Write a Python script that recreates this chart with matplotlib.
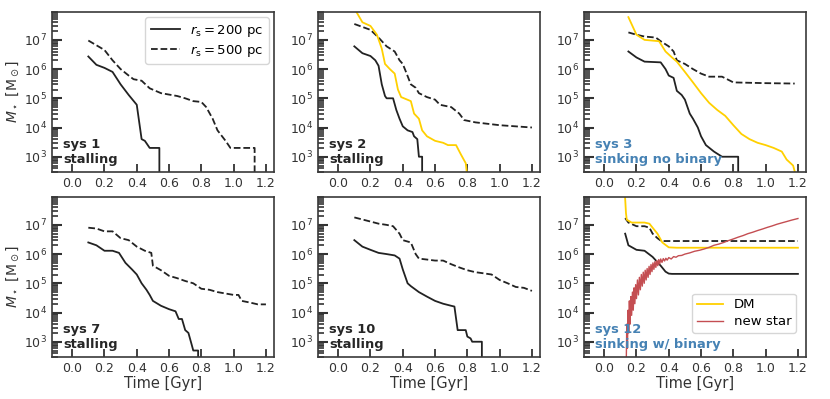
import matplotlib
matplotlib.use("Agg")
import matplotlib.pyplot as plt
from matplotlib.ticker import LogLocator, NullFormatter
import numpy as np

plt.rcdefaults()

# --- dane (czas w Gyr, masa w Msun) ---
# sys 1
s1_t200 = [0.10, 0.15, 0.20, 0.25, 0.30, 0.35, 0.40, 0.43, 0.45, 0.48, 0.54, 0.54]
s1_m200 = [2.7e6, 1.4e6, 1.1e6, 8e5, 3e5, 1.3e5, 6e4, 4e3, 3.5e3, 2e3, 2e3, 1e2]
s1_t500 = [0.10, 0.20, 0.25, 0.30, 0.35, 0.38, 0.43, 0.48, 0.55, 0.65, 0.70, 0.75, 0.80,
           0.83, 0.87, 0.90, 0.95, 0.98, 1.13, 1.13]
s1_m500 = [9.5e6, 4.5e6, 2e6, 1e6, 6e5, 4.5e5, 4e5, 2.2e5, 1.5e5, 1.2e5, 1e5, 8e4, 7.5e4,
           5e4, 2e4, 8e3, 3.5e3, 2e3, 2e3, 1e2]

# sys 2
s2_t200 = [0.10, 0.15, 0.20, 0.23, 0.25, 0.27, 0.29, 0.30, 0.34, 0.36, 0.38, 0.40, 0.43,
           0.46, 0.47, 0.49, 0.50, 0.52, 0.52]
s2_m200 = [6e6, 3.5e6, 2.8e6, 2e6, 1.3e6, 3e5, 1.2e5, 1e5, 1e5, 4e4, 2e4, 1.1e4, 8e3,
           7e3, 5e3, 4e3, 1e3, 1e3, 1e2]
s2_t500 = [0.10, 0.20, 0.25, 0.30, 0.35, 0.38, 0.40, 0.42, 0.45, 0.48, 0.50, 0.55, 0.60,
           0.63, 0.70, 0.75, 0.78, 0.85, 1.00, 1.20]
s2_m500 = [3.5e7, 2.2e7, 1.2e7, 6e6, 4e6, 2e6, 1.5e6, 8e5, 3e5, 2.3e5, 1.5e5, 1.1e5, 9e4,
           6e4, 5e4, 3e4, 1.8e4, 1.5e4, 1.2e4, 1.0e4]
s2_tdm = [0.10, 0.15, 0.20, 0.24, 0.27, 0.29, 0.32, 0.35, 0.37, 0.39, 0.45, 0.47, 0.50,
          0.52, 0.55, 0.60, 0.65, 0.68, 0.73, 0.76, 0.79, 0.80]
s2_mdm = [1.2e8, 4e7, 3e7, 1.5e7, 5e6, 1.5e6, 1e6, 7e5, 2e5, 1.1e5, 8e4, 3e4, 2e4,
          8e3, 5e3, 3.5e3, 3e3, 2.5e3, 2.5e3, 1.2e3, 6e2, 2e2]

# sys 3
s3_t200 = [0.15, 0.20, 0.25, 0.35, 0.38, 0.40, 0.43, 0.45, 0.48, 0.50, 0.53, 0.55, 0.58,
           0.60, 0.63, 0.68, 0.73, 0.83, 0.83]
s3_m200 = [4e6, 2.5e6, 1.8e6, 1.7e6, 1e6, 6e5, 5e5, 1.8e5, 1.3e5, 9e4, 3e4, 2e4, 1e4,
           5e3, 2.5e3, 1.5e3, 1e3, 1e3, 1e2]
s3_t500 = [0.15, 0.20, 0.25, 0.32, 0.35, 0.40, 0.43, 0.45, 0.50, 0.55, 0.60, 0.65, 0.73,
           0.78, 0.80, 1.00, 1.18]
s3_m500 = [1.8e7, 1.5e7, 1.3e7, 1.2e7, 9e6, 6e6, 4e6, 2e6, 1.5e6, 1e6, 7e5, 5.5e5, 5.5e5,
           4e5, 3.5e5, 3.3e5, 3.2e5]
s3_tdm = [0.15, 0.20, 0.25, 0.34, 0.38, 0.42, 0.45, 0.50, 0.55, 0.60, 0.65, 0.70, 0.75,
          0.80, 0.85, 0.90, 0.95, 1.00, 1.05, 1.10, 1.13, 1.17, 1.19]
s3_mdm = [6e7, 1.5e7, 1e7, 9e6, 4e6, 2.5e6, 1.8e6, 8e5, 3.5e5, 1.5e5, 7e4, 4e4, 2.5e4,
          1.2e4, 6e3, 4e3, 3e3, 2.5e3, 2e3, 1.5e3, 8e2, 5e2, 2e2]

# sys 7
s7_t200 = [0.10, 0.15, 0.20, 0.25, 0.29, 0.33, 0.37, 0.40, 0.43, 0.46, 0.48, 0.50, 0.55,
           0.60, 0.64, 0.66, 0.68, 0.70, 0.72, 0.74, 0.75, 0.78, 0.78]
s7_m200 = [2.5e6, 2e6, 1.3e6, 1.3e6, 1.1e6, 5e5, 3e5, 2e5, 1e5, 6e4, 4e4, 2.5e4, 1.7e4,
           1.3e4, 1.1e4, 6e3, 6e3, 2.5e3, 2e3, 8e2, 5e2, 5e2, 1e2]
s7_t500 = [0.10, 0.15, 0.20, 0.25, 0.30, 0.35, 0.40, 0.45, 0.49, 0.50, 0.55, 0.60, 0.65,
           0.70, 0.75, 0.80, 0.85, 0.90, 1.00, 1.03, 1.05, 1.10, 1.15, 1.20]
s7_m500 = [8e6, 7.5e6, 6e6, 6e6, 3.5e6, 3e6, 1.8e6, 1.3e6, 1.1e6, 4e5, 2.8e5, 1.8e5, 1.5e5,
           1.2e5, 1e5, 6.5e4, 6e4, 5e4, 4e4, 4e4, 2.5e4, 2.2e4, 1.9e4, 1.9e4]

# sys 10
s10_t200 = [0.10, 0.15, 0.20, 0.25, 0.30, 0.35, 0.38, 0.40, 0.43, 0.45, 0.50, 0.55, 0.60,
            0.65, 0.70, 0.72, 0.74, 0.79, 0.80, 0.82, 0.83, 0.89, 0.89]
s10_m200 = [3e6, 1.8e6, 1.4e6, 1.1e6, 1e6, 9e5, 7e5, 3e5, 1e5, 8e4, 5e4, 3.5e4, 2.5e4,
            2e4, 1.7e4, 1.6e4, 2.5e3, 2.5e3, 1.5e3, 1.3e3, 1e3, 1e3, 1e2]
s10_t500 = [0.10, 0.20, 0.25, 0.30, 0.34, 0.38, 0.40, 0.45, 0.48, 0.50, 0.55, 0.60, 0.65,
            0.70, 0.75, 0.80, 0.85, 0.90, 0.95, 1.00, 1.05, 1.10, 1.15, 1.20]
s10_m500 = [1.8e7, 1.3e7, 1.1e7, 1e7, 9e6, 5e6, 3e6, 2.5e6, 1e6, 7e5, 6.5e5, 6e5, 6e5,
            4.5e5, 3.5e5, 2.8e5, 2.4e5, 2.2e5, 2e5, 1.3e5, 1e5, 7.5e4, 7e4, 5.5e4]

# sys 12
s12_t200 = [0.13, 0.15, 0.20, 0.25, 0.30, 0.35, 0.38, 0.40, 0.42, 1.20]
s12_m200 = [5e6, 2e6, 1.4e6, 1.3e6, 8e5, 4e5, 2.5e5, 2.15e5, 2.1e5, 2.1e5]
s12_t500 = [0.13, 0.15, 0.20, 0.25, 0.28, 0.30, 0.33, 0.35, 0.37, 1.20]
s12_m500 = [1.7e7, 1.2e7, 9e6, 9e6, 8e6, 5e6, 3.5e6, 2.9e6, 2.8e6, 2.8e6]
s12_tdm = [0.128, 0.132, 0.135, 0.14, 0.17, 0.25, 0.28, 0.30, 0.33, 0.36, 0.40, 0.45, 1.20]
s12_mdm = [1.2e8, 5e7, 2.5e7, 1.5e7, 1.2e7, 1.2e7, 1.1e7, 8e6, 5e6, 2.5e6, 1.7e6, 1.65e6, 1.65e6]
s12_tns = [0.136, 0.140, 0.144, 0.148, 0.152, 0.156, 0.160, 0.165, 0.170, 0.175, 0.180,
           0.185, 0.190, 0.195, 0.200, 0.206, 0.212, 0.218, 0.224, 0.230, 0.236, 0.242,
           0.248, 0.254, 0.260, 0.266, 0.272, 0.278, 0.284, 0.290, 0.296, 0.302, 0.308,
           0.314, 0.320, 0.326, 0.332, 0.338, 0.344, 0.350, 0.358, 0.366, 0.374, 0.382,
           0.390, 0.400, 0.415, 0.430, 0.445, 0.460, 0.480, 0.500, 0.530, 0.560, 0.590,
           0.620, 0.650, 0.680, 0.710, 0.740, 0.770, 0.800, 0.830, 0.860, 0.890, 0.920,
           0.950, 0.980, 1.010, 1.040, 1.070, 1.100, 1.130, 1.160, 1.200]
s12_mns = [1e2, 4e3, 6e2, 1.2e4, 2e3, 2.5e4, 4e3, 3.5e4, 8e3, 5e4, 1.2e4,
           7e4, 2e4, 9e4, 3e4, 1.3e5, 4e4, 1.6e5, 6e4, 2e5, 8e4, 2.4e5,
           1e5, 2.8e5, 1.3e5, 3.2e5, 1.6e5, 3.8e5, 2e5, 4.4e5, 2.5e5, 5e5, 3e5,
           5.5e5, 3.5e5, 6e5, 4e5, 6.5e5, 4.6e5, 6.8e5, 5.2e5, 7e5, 5.8e5, 7.2e5,
           6.2e5, 7.6e5, 6.8e5, 8.2e5, 7.8e5, 8.8e5, 9e5, 1e6, 1.1e6, 1.25e6, 1.35e6,
           1.5e6, 1.7e6, 2e6, 2.2e6, 2.5e6, 2.9e6, 3.3e6, 3.8e6, 4.3e6, 5e6, 5.6e6,
           6.4e6, 7.2e6, 8.2e6, 9.2e6, 1.05e7, 1.17e7, 1.3e7, 1.45e7, 1.65e7]

labels = ["sys 1\nstalling", "sys 2\nstalling", "sys 3\nsinking no binary",
          "sys 7\nstalling", "sys 10\nstalling", "sys 12\nsinking w/ binary"]
label_colors = ["#262626", "#262626", "#4682b4", "#262626", "#262626", "#4682b4"]

panels = [
    (s1_t200, s1_m200, s1_t500, s1_m500, None, None),
    (s2_t200, s2_m200, s2_t500, s2_m500, s2_tdm, s2_mdm),
    (s3_t200, s3_m200, s3_t500, s3_m500, s3_tdm, s3_mdm),
    (s7_t200, s7_m200, s7_t500, s7_m500, None, None),
    (s10_t200, s10_m200, s10_t500, s10_m500, None, None),
    (s12_t200, s12_m200, s12_t500, s12_m500, s12_tdm, s12_mdm),
]

fig = plt.figure(figsize=(8.3, 3.99), dpi=100)

left0, dx, w, h = 52 / 830, 266 / 830, 222 / 830, 160 / 399
bottoms = [1 - 172 / 399, 1 - 357 / 399]

DM_COLOR = "#ffd000"
NS_COLOR = "#c44e52"
FRAME = "#3a3a3a"

axes = []
for i, (t2, m2, t5, m5, tdm, mdm) in enumerate(panels):
    row, col = divmod(i, 3)
    ax = fig.add_axes([left0 + col * dx, bottoms[row], w, h])
    axes.append(ax)

    ax.plot(t2, m2, color="#222222", lw=1.3, label=r"$r_{\rm s} = 200$ pc")
    ax.plot(t5, m5, color="#222222", lw=1.3, ls="--", label=r"$r_{\rm s} = 500$ pc")
    if tdm is not None:
        ax.plot(tdm, mdm, color=DM_COLOR, lw=1.3, label="DM")
    if i == 5:
        ax.plot(s12_tns, s12_mns, color=NS_COLOR, lw=1.0, label="new star")

    ax.set_yscale("log")
    ax.set_xlim(-0.125, 1.25)
    ax.set_ylim(3e2, 9e7)
    ax.set_xticks([0.0, 0.2, 0.4, 0.6, 0.8, 1.0, 1.2])
    ax.yaxis.set_major_locator(LogLocator(base=10, numticks=20))
    ax.yaxis.set_minor_locator(LogLocator(base=10, subs=np.arange(2, 10) * 1.0, numticks=50))
    ax.yaxis.set_minor_formatter(NullFormatter())

    # kreski osi – wyraźne, do środka, tylko lewa i dolna
    ax.tick_params(axis="x", which="major", direction="in", length=6, width=1.3,
                   color="#333333", bottom=True, top=False,
                   labelsize=9, labelcolor="#333333")
    ax.tick_params(axis="x", which="minor", bottom=False, top=False)
    ax.tick_params(axis="y", which="major", direction="in", length=7, width=1.5,
                   color="#333333", left=True, right=False,
                   labelsize=9, labelcolor="#333333")
    ax.tick_params(axis="y", which="minor", direction="in", length=4.5, width=1.2,
                   color="#333333", left=True, right=False)
    for sp in ax.spines.values():
        sp.set_color(FRAME)
        sp.set_linewidth(1.2)

    ax.text(0.05, 0.04, labels[i], transform=ax.transAxes, ha="left", va="bottom",
            fontsize=9.4, fontweight="bold", color=label_colors[i], linespacing=1.15)

    if col == 0:
        ax.set_ylabel(r"$M_\star$ [M$_\odot$]", fontsize=10, color="#333333", labelpad=2)
    if row == 1:
        ax.set_xlabel("Time [Gyr]", fontsize=10.5, color="#333333", labelpad=1)

# legendy
h0, l0 = axes[0].get_legend_handles_labels()
axes[0].legend(h0, l0, loc="upper right", fontsize=9.5, frameon=True,
               handlelength=2.2, borderaxespad=0.4, labelspacing=0.3)
h5, l5 = axes[5].get_legend_handles_labels()
axes[5].legend(h5[2:], l5[2:], loc="lower right", fontsize=9.5, frameon=True,
               handlelength=2.0, bbox_to_anchor=(0.985, 0.11), labelspacing=0.3,
               borderpad=0.35)

fig.savefig("out.png", dpi=100)
